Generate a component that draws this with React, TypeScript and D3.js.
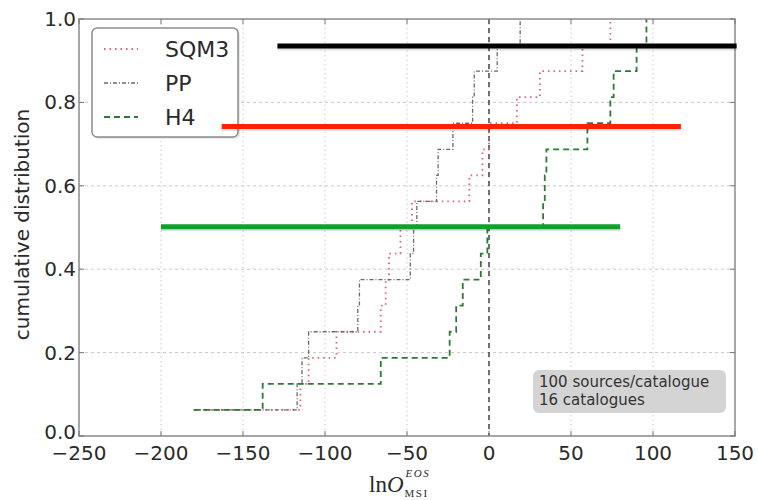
import React, { useEffect, useRef } from 'react';
import * as d3 from 'd3';

// sorted catalogue values (16 catalogues), cumulative step = 1/16
const sqm3 = [-180, -115, -110, -93, -66, -63, -61, -54, -47, -12, -4, 0, 17, 31, 57, 74];
const pp = [-180, -117, -114, -110, -80, -79, -48, -46, -44, -32, -31, -22, -10, -9, 5, 19];
const h4 = [-180, -138, -66, -24, -20, -16, -5, -1, 33, 34, 35, 60, 74, 76, 90, 96];

const xTicks = [-250, -200, -150, -100, -50, 0, 50, 100, 150];
const yTicks = [0.0, 0.2, 0.4, 0.6, 0.8, 1.0];

const seriesNames = ['SQM3', 'PP', 'H4'];

// hand-drawn marker lines over the plot: [x0, x1, y]
const markerLines = [
  { x0: -129, x1: 151, y: 0.935, color: '#000000' },
  { x0: -163, x1: 117, y: 0.742, color: '#ff2200' },
  { x0: -200, x1: 80, y: 0.502, color: '#11a02a' },
];

const boxLines = ['100 sources/catalogue', '16 catalogues'];

const App = () => {
  const svgRef = useRef<SVGSVGElement>(null);

  useEffect(() => {
    const svg = d3.select(svgRef.current);
    svg.selectAll('*').remove();

    const left = 79, right = 735, top = 19, bottom = 436;
    const x = d3.scaleLinear().domain([-250, 150]).range([left, right]);
    const y = d3.scaleLinear().domain([0, 1]).range([bottom, top]);
    const tickFont = 'DejaVu Sans, sans-serif';

    svg.append('rect').attr('width', 758).attr('height', 500).attr('fill', '#fff');

    // grid
    const grid = svg.append('g');
    grid.selectAll('.gx').data(xTicks.slice(1, -1)).enter().append('line')
      .attr('x1', d => x(d)).attr('x2', d => x(d)).attr('y1', top).attr('y2', bottom)
      .attr('stroke', '#c8c8c8').attr('stroke-width', 1).attr('stroke-dasharray', '1.5,3');
    grid.selectAll('.gy').data(yTicks.slice(1, -1)).enter().append('line')
      .attr('x1', left).attr('x2', right).attr('y1', d => y(d)).attr('y2', d => y(d))
      .attr('stroke', '#c8c8c8').attr('stroke-width', 1).attr('stroke-dasharray', '3,3');

    // vertical line at zero
    svg.append('line')
      .attr('x1', x(0)).attr('x2', x(0)).attr('y1', top).attr('y2', bottom)
      .attr('stroke', '#444').attr('stroke-width', 1.5).attr('stroke-dasharray', '5,4');

    const line = d3.line<number>()
      .x(d => x(d))
      .y((d, i) => y((i + 1) / 16))
      .curve(d3.curveStepAfter);

    const styles = [
      { data: sqm3, color: '#e0606a', dash: '1.5,4', width: 1.8 },
      { data: pp, color: '#6a6a6a', dash: '4,2,1,2', width: 1.3 },
      { data: h4, color: '#2d7a35', dash: '6,4', width: 1.8 },
    ];

    styles.forEach(s => {
      svg.append('path')
        .datum(s.data)
        .attr('d', line)
        .attr('fill', 'none')
        .attr('stroke', s.color)
        .attr('stroke-width', s.width)
        .attr('stroke-dasharray', s.dash);
    });

    // frame
    svg.append('rect')
      .attr('x', left).attr('y', top).attr('width', right - left).attr('height', bottom - top)
      .attr('fill', 'none').attr('stroke', '#8a8a8a').attr('stroke-width', 1.5);

    // ticks
    xTicks.forEach(t => {
      svg.append('line').attr('x1', x(t)).attr('x2', x(t)).attr('y1', bottom).attr('y2', bottom - 5)
        .attr('stroke', '#777');
      svg.append('line').attr('x1', x(t)).attr('x2', x(t)).attr('y1', top).attr('y2', top + 5)
        .attr('stroke', '#777');
      svg.append('text')
        .attr('x', x(t)).attr('y', 460)
        .attr('text-anchor', 'middle')
        .attr('font-family', tickFont).attr('font-size', 20).attr('fill', '#2a2a2a')
        .text(d3.format('d')(t).replace('-', '\u2212'));
    });
    yTicks.forEach(t => {
      svg.append('line').attr('x1', left).attr('x2', left + 5).attr('y1', y(t)).attr('y2', y(t))
        .attr('stroke', '#777');
      svg.append('line').attr('x1', right).attr('x2', right - 5).attr('y1', y(t)).attr('y2', y(t))
        .attr('stroke', '#777');
      svg.append('text')
        .attr('x', 76).attr('y', t === 0 ? y(t) + 3 : y(t) + 7)
        .attr('text-anchor', 'end')
        .attr('font-family', tickFont).attr('font-size', 20).attr('fill', '#2a2a2a')
        .text(d3.format('.1f')(t));
    });

    // axis labels
    svg.append('text')
      .attr('transform', `translate(29,${(top + bottom) / 2 - 3}) rotate(-90)`)
      .attr('text-anchor', 'middle')
      .attr('font-family', tickFont).attr('font-size', 20).attr('fill', '#2a2a2a')
      .text('cumulative distribution');

    const xl = svg.append('g').attr('font-family', 'Liberation Serif, serif').attr('fill', '#2a2a2a');
    const lab = xl.append('text').attr('x', 369).attr('y', 492).attr('font-size', 23);
    lab.append('tspan').text('ln');
    lab.append('tspan').attr('font-style', 'italic').text('O');
    const labEnd = 369 + ((lab.node() as SVGTextElement).getComputedTextLength() || 32);
    xl.append('text').attr('x', labEnd + 2).attr('y', 477).attr('font-size', 11)
      .attr('font-style', 'italic').attr('letter-spacing', 1.5).text('EOS');
    xl.append('text').attr('x', labEnd + 1).attr('y', 497).attr('font-size', 11)
      .attr('letter-spacing', 1.5).text('MSI');

    // legend
    const lg = svg.append('g');
    lg.append('rect').attr('x', 94).attr('y', 30).attr('width', 146).attr('height', 109).attr('rx', 5)
      .attr('fill', '#e6e6e6');
    lg.append('rect').attr('x', 92).attr('y', 28).attr('width', 146).attr('height', 109).attr('rx', 5)
      .attr('fill', '#fff').attr('stroke', '#8c8c8c').attr('stroke-width', 1.5);
    const rowY = [49, 83, 117];
    seriesNames.forEach((name, i) => {
      const s = styles[i];
      lg.append('line').attr('x1', 104).attr('x2', 138).attr('y1', rowY[i]).attr('y2', rowY[i])
        .attr('stroke', s.color).attr('stroke-width', s.width).attr('stroke-dasharray', s.dash);
      lg.append('text').attr('x', 165).attr('y', rowY[i] + 8)
        .attr('font-family', tickFont).attr('font-size', 22).attr('fill', '#2a2a2a')
        .text(name);
    });

    // info box
    svg.append('rect').attr('x', 533).attr('y', 370).attr('width', 193).attr('height', 43).attr('rx', 6)
      .attr('fill', '#d4d4d4');
    boxLines.forEach((t, i) => {
      svg.append('text').attr('x', 539).attr('y', 387 + i * 18)
        .attr('font-family', tickFont).attr('font-size', 15).attr('fill', '#333')
        .text(t);
    });

    // marker strokes
    markerLines.forEach(m => {
      svg.append('line')
        .attr('x1', x(m.x0)).attr('x2', x(m.x1)).attr('y1', y(m.y) + 2).attr('y2', y(m.y) + 2)
        .attr('stroke', '#000').attr('stroke-opacity', 0.12).attr('stroke-width', 5);
      svg.append('line')
        .attr('x1', x(m.x0)).attr('x2', x(m.x1)).attr('y1', y(m.y)).attr('y2', y(m.y))
        .attr('stroke', m.color).attr('stroke-width', 5);
    });
  }, []);

  return (
    <svg ref={svgRef} width={758} height={500}
      style={{ position: 'absolute', left: 0, top: 0 }} />
  );
};

export default App;
